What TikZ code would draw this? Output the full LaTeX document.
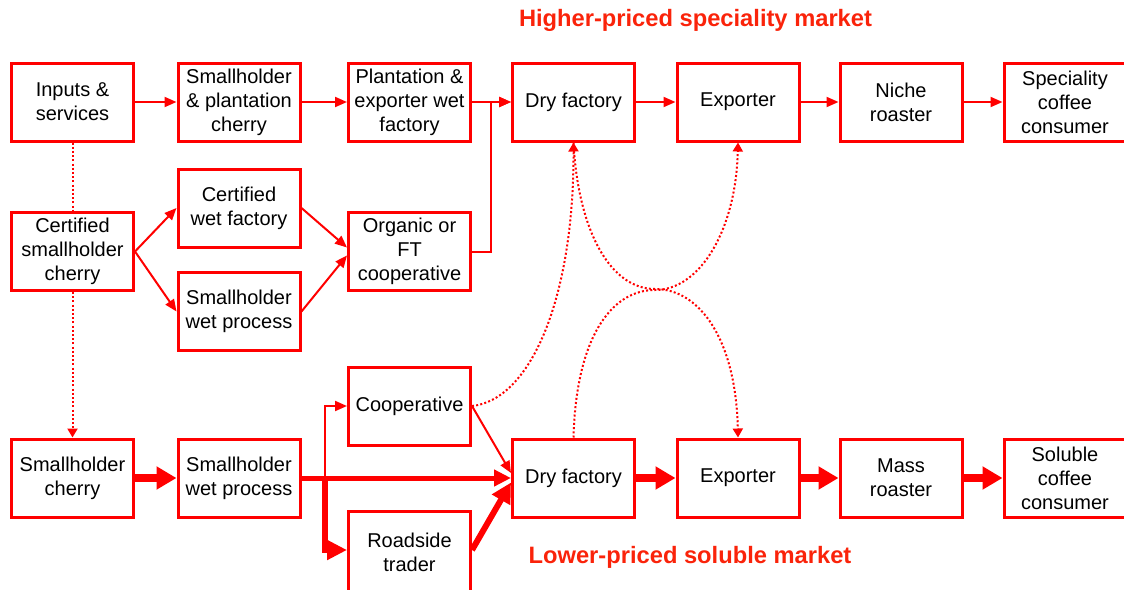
\documentclass[tikz,border=0pt]{standalone}
\usepackage{fontspec}
\setmainfont{Liberation Sans}
\usetikzlibrary{arrows.meta}

\definecolor{headred}{RGB}{250,35,10}

\tikzset{
  box/.style={draw=red, line width=3pt, minimum width=122pt, minimum height=78pt,
    inner sep=1pt, align=center, font=\fontsize{20}{24}\selectfont},
  flow/.style={red, line width=2pt, -{Triangle[length=12pt,width=10pt]}},
  bulk/.style={red, line width=8pt, -{Triangle[length=20pt,width=22pt]}},
  dots/.style={red, line width=2pt, dash pattern=on 2pt off 2.2pt},
  dotarrow/.style={dots, -{Triangle[length=9pt,width=10pt]}},
  market/.style={headred, font=\fontsize{23.7}{26}\selectfont\bfseries}
}

\begin{document}
\begin{tikzpicture}[x=1pt,y=-1pt]
  \useasboundingbox (0,0) rectangle (1124,589);

  % market headings
  \node[market] (hi) at (695.5,20) {Higher-priced speciality market};
  \node[market] (lo) at (690,557) {Lower-priced soluble market};

  % speciality chain
  \node[box] (inputs) at (72.5,102) {Inputs \&\\services};
  \node[box] (shpcherry) at (239,102) {Smallholder\\\& plantation\\cherry};
  \node[box] (pewet) at (409.5,102) {Plantation \&\\exporter wet\\factory};
  \node[box] (dryhi) at (573.5,102) {Dry factory};
  \node[box] (exphi) at (738,102) {Exporter};
  \node[box] (niche) at (901,102) {Niche\\roaster};
  \node[box] (specon) at (1065,102) {Speciality\\coffee\\consumer};

  % certified branch
  \node[box] (certwet) at (239,208) {Certified\\wet factory};
  \node[box] (certcherry) at (72.5,251.5) {Certified\\smallholder\\cherry};
  \node[box] (organic) at (409.5,251.5) {Organic or\\FT\\cooperative};
  \node[box] (shwetmid) at (239,311.5) {Smallholder\\wet process};

  % soluble chain
  \node[box] (coop) at (409.5,406) {Cooperative};
  \node[box] (shcherry) at (72.5,478) {Smallholder\\cherry};
  \node[box] (shwet) at (239,478) {Smallholder\\wet process};
  \node[box] (drylo) at (573.5,478) {Dry factory};
  \node[box] (explo) at (738,478) {Exporter};
  \node[box] (mass) at (901,478) {Mass\\roaster};
  \node[box] (solcon) at (1065,478) {Soluble\\coffee\\consumer};
  \node[box, minimum height=82pt] (trader) at (409.5,552) {Roadside\\trader};

  \draw[flow] (inputs) -- (shpcherry);
  \draw[flow] (shpcherry) -- (pewet);
  \draw[flow] (pewet) -- (dryhi);
  \draw[flow] (organic.east) -- ++(19,0) |- (dryhi.west);
  \draw[flow] (dryhi) -- (exphi);
  \draw[flow] (exphi) -- (niche);
  \draw[flow] (niche) -- (specon);

  \draw[dots] (inputs) -- (certcherry);
  \draw[dotarrow] (certcherry) -- (shcherry);
  \draw[flow] (certcherry.east) -- (certwet.west);
  \draw[flow] (certcherry.east) -- (shwetmid.west);
  \draw[flow] (certwet.east) -- ([yshift=4pt]organic.west);
  \draw[flow] (shwetmid.east) -- ([yshift=-4pt]organic.west);

  \coordinate (fork) at (325,478);
  \draw[bulk] (shcherry) -- (shwet);
  \draw[red, line width=5pt, -{Triangle[length=17pt,width=16pt]}] (shwet) -- (drylo);
  \draw[flow] (fork) |- (coop.west);
  \draw[red, line width=6pt, -{Triangle[length=20pt,width=19pt]}] (fork) |- ([yshift=2pt]trader.west);
  \draw[flow] (coop.east) -- ([yshift=5pt]drylo.west);
  \draw[red, line width=6pt, -{Triangle[length=20pt,width=20pt]}] ([yshift=2pt]trader.east) -- ([yshift=-4.5pt]drylo.west);
  \draw[bulk] (drylo) -- (explo);
  \draw[bulk] (explo) -- (mass);
  \draw[bulk] (mass) -- (solcon);

  % crossing flows between the two markets
  \draw[dotarrow] (coop.east) .. controls (530,400) and (574,300) .. (dryhi.south);
  \draw[dotarrow] (dryhi.south) .. controls (578,230) and (610,289) .. (655,289)
    .. controls (700,289) and (736,340) .. (explo.north);
  \draw[dotarrow] (drylo.north) .. controls (576,340) and (610,290) .. (655,290)
    .. controls (700,290) and (736,230) .. (exphi.south);
\end{tikzpicture}
\end{document}
